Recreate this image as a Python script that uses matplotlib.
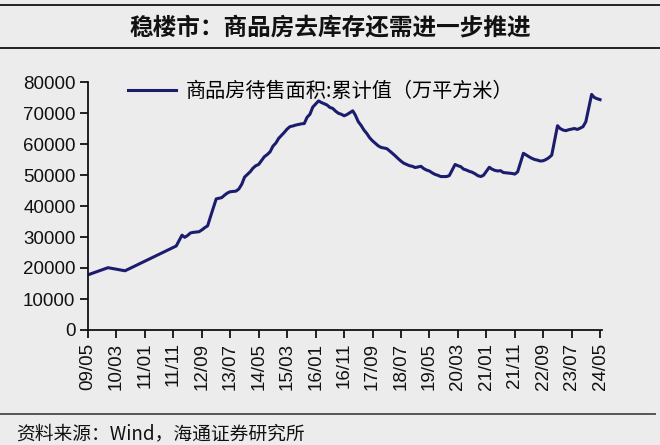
import matplotlib
matplotlib.use("Agg")
import matplotlib.pyplot as plt
import pandas as pd
from matplotlib.lines import Line2D

title = "稳楼市：商品房去库存还需进一步推进"
series_name = "商品房待售面积:累计值（万平方米）"
source = "资料来源：Wind，海通证券研究所"

dates = [
    "2009-05", "2009-12", "2010-06", "2011-12",
    "2012-02", "2012-03", "2012-04", "2012-05", "2012-06", "2012-07", "2012-08", "2012-09", "2012-10", "2012-11", "2012-12",
    "2013-02", "2013-03", "2013-04", "2013-05", "2013-06", "2013-07", "2013-08", "2013-09", "2013-10", "2013-11", "2013-12",
    "2014-02", "2014-03", "2014-04", "2014-05", "2014-06", "2014-07", "2014-08", "2014-09", "2014-10", "2014-11", "2014-12",
    "2015-02", "2015-03", "2015-04", "2015-05", "2015-06", "2015-07", "2015-08", "2015-09", "2015-10", "2015-11", "2015-12",
    "2016-02", "2016-03", "2016-04", "2016-05", "2016-06", "2016-07", "2016-08", "2016-09", "2016-10", "2016-11", "2016-12",
    "2017-02", "2017-03", "2017-04", "2017-05", "2017-06", "2017-07", "2017-08", "2017-09", "2017-10", "2017-11", "2017-12",
    "2018-02", "2018-03", "2018-04", "2018-05", "2018-06", "2018-07", "2018-08", "2018-09", "2018-10", "2018-11", "2018-12",
    "2019-02", "2019-03", "2019-04", "2019-05", "2019-06", "2019-07", "2019-08", "2019-09", "2019-10", "2019-11", "2019-12",
    "2020-02", "2020-03", "2020-04", "2020-05", "2020-06", "2020-07", "2020-08", "2020-09", "2020-10", "2020-11", "2020-12",
    "2021-02", "2021-03", "2021-04", "2021-05", "2021-06", "2021-07", "2021-08", "2021-09", "2021-10", "2021-11", "2021-12",
    "2022-02", "2022-03", "2022-04", "2022-05", "2022-06", "2022-07", "2022-08", "2022-09", "2022-10", "2022-11", "2022-12",
    "2023-02", "2023-03", "2023-04", "2023-05", "2023-06", "2023-07", "2023-08", "2023-09", "2023-10", "2023-11", "2023-12",
    "2024-02", "2024-03", "2024-04", "2024-05",
]
values = [
    17800, 20100, 19100, 27100,
    30600, 29900, 30500, 31300, 31500, 31600, 31700, 32300, 33000, 33600, 36500,
    42300, 42500, 42700, 43500, 44200, 44600, 44700, 44800, 45500, 47000, 49300,
    51100, 52200, 53000, 53400, 54700, 55900, 56600, 57500, 59300, 60300, 61800,
    63800, 64800, 65600, 65800, 66100, 66300, 66500, 66600, 68600, 69600, 71900,
    73900, 73400, 73000, 72600, 71800, 71500, 70600, 69900, 69600, 69100, 69500,
    70700, 69300, 67200, 66000, 64500, 63400, 62000, 61000, 60200, 59400, 58900,
    58500, 57800, 57000, 56200, 55300, 54500, 53800, 53400, 53000, 52800, 52400,
    52800, 52100, 51600, 51300, 50700, 50200, 49900, 49500, 49500, 49500, 49800,
    53400, 53000, 52700, 51900, 51600, 51200, 50900, 50400, 49800, 49500, 49900,
    52500, 51900, 51500, 51300, 51400, 50800, 50700, 50600, 50500, 50300, 51000,
    57000, 56500, 55900, 55400, 55000, 54800, 54500, 54600, 55000, 55600, 56400,
    65900, 65000, 64500, 64300, 64600, 64800, 65000, 64700, 65100, 65600, 67200,
    76000, 75000, 74600, 74300,
]
tick_dates = ["2009-05", "2010-03", "2011-01", "2011-11", "2012-09", "2013-07", "2014-05",
              "2015-03", "2016-01", "2016-11", "2017-09", "2018-07", "2019-05", "2020-03",
              "2021-01", "2021-11", "2022-09", "2023-07", "2024-05"]
y_ticks = [0, 10000, 20000, 30000, 40000, 50000, 60000, 70000, 80000]

bg = "#ececec"
line_color = "#1c1c6e"
cjk = ["Noto Sans CJK SC", "DejaVu Sans"]
latin = ["Liberation Sans", "DejaVu Sans"]

fig = plt.figure(figsize=(6.6, 4.45), dpi=100, facecolor=bg)
W, H = 660, 445

def fy(ypx):
    return 1 - ypx / H

# header lines and title
fig.add_artist(Line2D([0, 1], [fy(5), fy(5)], color="#222222", lw=1.4))
fig.add_artist(Line2D([0, 1], [fy(48), fy(48)], color="#222222", lw=1.4))
fig.text(0.5, fy(27), title, ha="center", va="center", fontsize=17,
         family=cjk, weight="bold", color="#111111")

# footer
fig.add_artist(Line2D([0, 655 / W], [fy(414), fy(414)], color="#555555", lw=1.4))
fig.text(16 / W, fy(434), source, ha="left", va="center", fontsize=13.5,
         family=cjk, color="#111111")

ax = fig.add_axes([88 / W, fy(330), (602 - 88) / W, (330 - 82) / H])
ax.set_facecolor(bg)

x = pd.to_datetime(dates)
ax.plot(x, values, color=line_color, lw=2.2, solid_joinstyle="round")

xt = pd.to_datetime(tick_dates)
ax.set_xticks(xt)
ax.set_xticklabels([d.strftime("%y/%m") for d in xt], rotation=90,
                   fontsize=13.5, family=latin)
ax.set_xlim(pd.Timestamp("2009-05-01"), pd.Timestamp("2024-05-22"))
ax.set_ylim(0, 80000)
ax.set_yticks(y_ticks)
ax.set_yticklabels([str(v) for v in y_ticks], fontsize=13.5, family=latin)

for s in ["top", "right"]:
    ax.spines[s].set_visible(False)
for s in ["left", "bottom"]:
    ax.spines[s].set_linewidth(1.3)
    ax.spines[s].set_color("#111111")
ax.tick_params(axis="both", direction="out", length=6, width=1.3, color="#111111",
               labelcolor="#111111", pad=3)

# legend (drawn as a legend entry)
handle = Line2D([], [], color=line_color, lw=2.2)
leg = ax.legend([handle], [series_name], loc="upper left",
                bbox_to_anchor=((118 - 88) / 514, 1.045), frameon=False,
                prop={"family": cjk, "size": 14.5}, handlelength=2.4,
                handletextpad=0.45, borderpad=0)

fig.savefig("out.png", dpi=100, facecolor=bg)
